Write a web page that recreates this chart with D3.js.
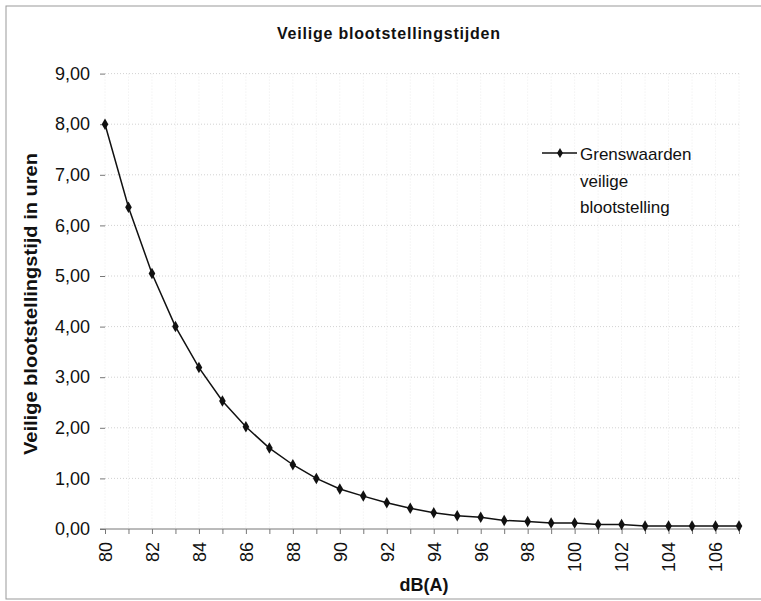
<!DOCTYPE html>
<html>
<head>
<meta charset="utf-8">
<script src="https://cdn.jsdelivr.net/npm/d3@7"></script>
<style>
  body { margin: 0; background: #fff; }
  text { font-family: Arial, "Liberation Sans", sans-serif; fill: #111; }
</style>
</head>
<body>
<svg id="chart" width="761" height="601"></svg>
<script>
// dB(A) levels and safe exposure time in hours
var levels = [80, 81, 82, 83, 84, 85, 86, 87, 88, 89, 90, 91, 92, 93,
              94, 95, 96, 97, 98, 99, 100, 101, 102, 103, 104, 105, 106, 107];
var hours = [8.00, 6.36, 5.05, 4.00, 3.19, 2.53, 2.02, 1.60, 1.27, 1.00, 0.79, 0.65, 0.52, 0.41,
             0.32, 0.26, 0.23, 0.17, 0.15, 0.12, 0.12, 0.09, 0.09, 0.06, 0.06, 0.06, 0.06, 0.06];
var xTickLabels = [80, 82, 84, 86, 88, 90, 92, 94, 96, 98, 100, 102, 104, 106];
var yTickValues = [0, 1, 2, 3, 4, 5, 6, 7, 8, 9];
var legendLines = ['Grenswaarden', 'veilige', 'blootstelling'];

var svg = d3.select('#chart');

var x = d3.scaleLinear().domain([80, 107]).range([105, 739]);
var y = d3.scaleLinear().domain([0, 9]).range([529, 73.6]);
var fmt = function (d) { return d3.format('.2f')(d).replace('.', ','); };

// outer frame
svg.append('rect')
    .attr('x', 6).attr('y', 6).attr('width', 770).attr('height', 593)
    .attr('fill', 'none').attr('stroke', '#999').attr('stroke-width', 1);

// title
svg.append('text')
    .attr('x', 277).attr('y', 39)
    .attr('textLength', 223).attr('lengthAdjust', 'spacing')
    .style('font-size', '16px').style('font-weight', 'bold')
    .text('Veilige blootstellingstijden');

// gridlines
svg.append('g').selectAll('line').data(levels).join('line')
    .attr('x1', d => x(d)).attr('x2', d => x(d))
    .attr('y1', y(9)).attr('y2', y(0))
    .attr('stroke', '#ececec').attr('stroke-dasharray', '1,2');
svg.append('g').selectAll('line').data(yTickValues.slice(1)).join('line')
    .attr('x1', x(80)).attr('x2', x(107))
    .attr('y1', d => y(d)).attr('y2', d => y(d))
    .attr('stroke', '#d2d2d2').attr('stroke-dasharray', '1,2');

// y axis
var yAxis = svg.append('g')
    .attr('transform', 'translate(' + x(80) + ',0)')
    .call(d3.axisLeft(y).tickValues(yTickValues).tickFormat(fmt).tickSize(5).tickPadding(10));
yAxis.select('.domain').remove();
yAxis.selectAll('line').attr('stroke', '#777');
yAxis.selectAll('text').style('font-size', '18px').attr('fill', '#111');

// x axis
var xAxis = svg.append('g')
    .attr('transform', 'translate(0,' + y(0) + ')')
    .call(d3.axisBottom(x).tickValues(levels)
        .tickFormat(d => xTickLabels.indexOf(d) >= 0 ? d : '').tickSize(5));
xAxis.select('.domain').attr('stroke', '#777').attr('d', 'M100,0H741');
xAxis.selectAll('line').attr('stroke', '#777');
xAxis.selectAll('text')
    .style('font-size', '18px').attr('fill', '#111')
    .attr('text-anchor', 'end')
    .attr('transform', 'rotate(-90)')
    .attr('x', -13).attr('y', 0).attr('dy', '0.35em');

// axis titles
svg.append('text')
    .attr('transform', 'translate(37,304) rotate(-90)')
    .attr('text-anchor', 'middle')
    .attr('textLength', 302).attr('lengthAdjust', 'spacingAndGlyphs')
    .style('font-size', '18px').style('font-weight', 'bold')
    .text('Veilige blootstellingstijd in uren');
svg.append('text')
    .attr('x', 424).attr('y', 591)
    .attr('text-anchor', 'middle')
    .style('font-size', '18px').style('font-weight', 'bold')
    .text('dB(A)');

// series
var pts = levels.map((d, i) => [d, hours[i]]);
svg.append('path')
    .datum(pts)
    .attr('fill', 'none').attr('stroke', '#111').attr('stroke-width', 1.5)
    .attr('d', d3.line().x(d => x(d[0])).y(d => y(d[1])));
svg.append('g').selectAll('path').data(pts).join('path')
    .attr('transform', d => 'translate(' + x(d[0]) + ',' + y(d[1]) + ')')
    .attr('d', d3.symbol().type(d3.symbolDiamond).size(38))
    .attr('fill', '#111');

// legend
var lg = svg.append('g');
lg.append('line')
    .attr('x1', 542).attr('x2', 577).attr('y1', 153).attr('y2', 153)
    .attr('stroke', '#111').attr('stroke-width', 1.5);
lg.append('path')
    .attr('transform', 'translate(560,153)')
    .attr('d', d3.symbol().type(d3.symbolDiamond).size(30))
    .attr('fill', '#111');
lg.selectAll('text').data(legendLines).join('text')
    .attr('x', 580).attr('y', (d, i) => 160 + i * 26.5)
    .style('font-size', '17px')
    .text(d => d);
</script>
</body>
</html>
